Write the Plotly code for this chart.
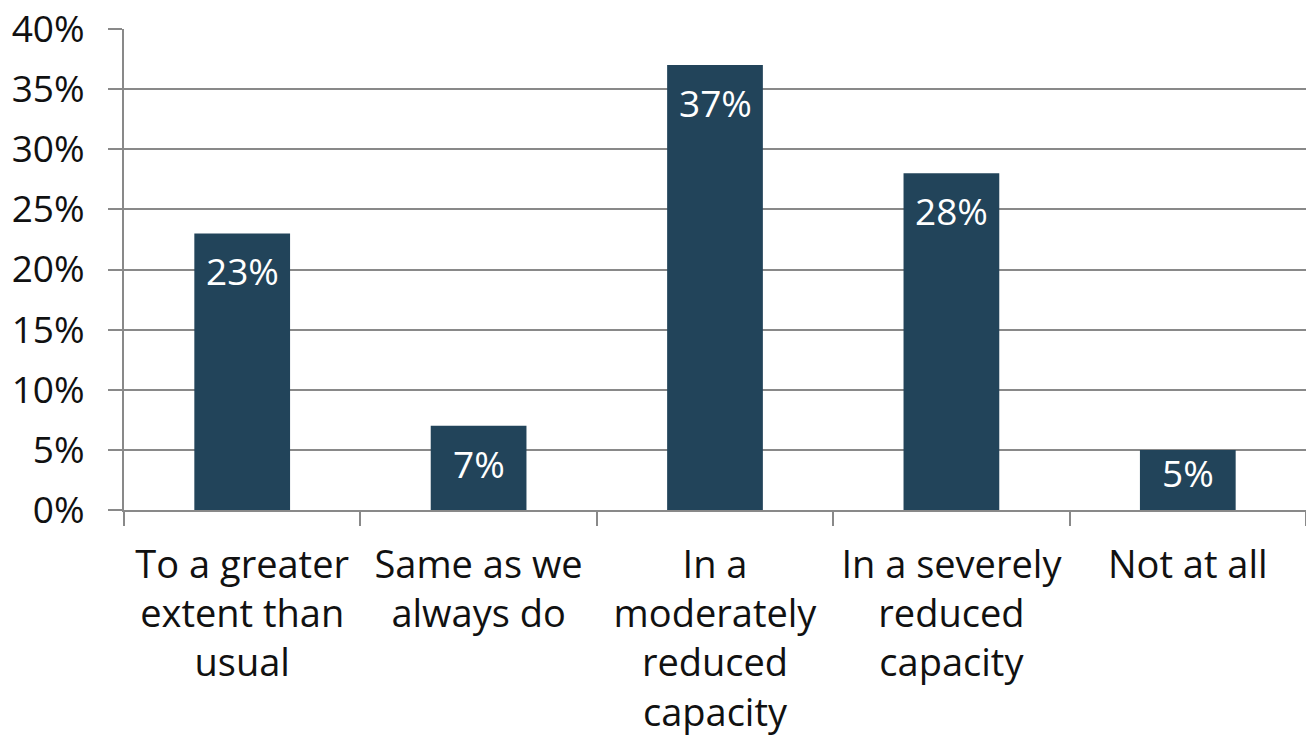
import plotly.graph_objects as go

# Survey responses: share of respondents per answer
categories = [
    "To a greater<br>extent than<br>usual",
    "Same as we<br>always do",
    "In a<br>moderately<br>reduced<br>capacity",
    "In a severely<br>reduced<br>capacity",
    "Not at all",
]
shares = [23, 7, 37, 28, 5]
y_ticks = [0, 5, 10, 15, 20, 25, 30, 35, 40]

BAR_COLOR = "#22445a"
GRID_COLOR = "#898989"
FONT = "Open Sans"
FONT_SIZE = 37

fig = go.Figure(
    go.Bar(
        x=categories,
        y=shares,
        marker=dict(color=BAR_COLOR, line=dict(width=0)),
        width=0.405,
        hoverinfo="skip",
    )
)

# Value labels sit just inside the top of each bar; short bars get less padding
for cat, val in zip(categories, shares):
    fig.add_annotation(
        x=cat,
        y=val,
        text=f"{val}%",
        showarrow=False,
        yanchor="top",
        yshift=-10 if val >= 6 else 5,
        font=dict(family=FONT, size=FONT_SIZE, color="white"),
    )

fig.update_layout(
    width=1306,
    height=738,
    margin=dict(l=124, r=0, t=29, b=228),
    paper_bgcolor="white",
    plot_bgcolor="white",
    showlegend=False,
    font=dict(family=FONT, size=FONT_SIZE, color="#111111"),
)

fig.update_yaxes(
    range=[0, 40],
    tickvals=y_ticks,
    ticktext=[f"{v}%" for v in y_ticks],
    showgrid=True,
    gridcolor=GRID_COLOR,
    gridwidth=2,
    zeroline=False,
    showline=True,
    linecolor=GRID_COLOR,
    linewidth=2,
    ticks="outside",
    ticklen=14,
    tickwidth=2,
    tickcolor=GRID_COLOR,
    ticklabelstandoff=16,
    fixedrange=True,
)

fig.update_xaxes(
    showline=True,
    linecolor=GRID_COLOR,
    linewidth=2,
    ticks="outside",
    tickson="boundaries",
    ticklen=14,
    tickwidth=2,
    tickcolor=GRID_COLOR,
    showgrid=False,
    ticklabelstandoff=20,
    tickfont=dict(family=FONT, size=38, color="#111111"),
    fixedrange=True,
)

fig.write_html("out.html", config={"displayModeBar": False})
